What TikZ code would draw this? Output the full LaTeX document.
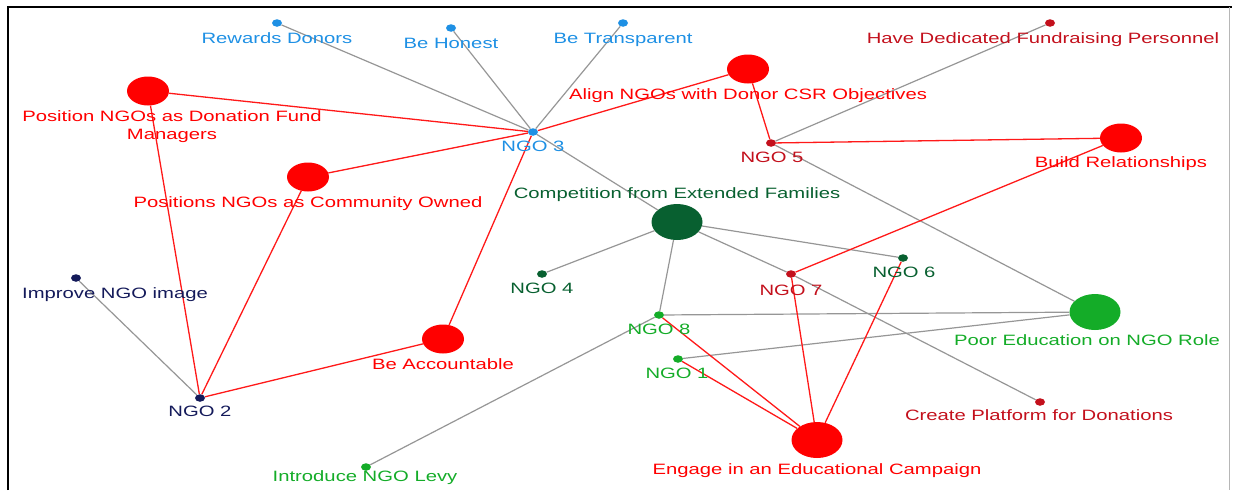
\documentclass[tikz,border=0pt]{standalone}
\usepackage{fontspec}
\setmainfont[FakeStretch=1.35]{Liberation Sans}
\usetikzlibrary{shapes.geometric}
\definecolor{ngoblue}{RGB}{30,144,228}
\definecolor{ngored}{RGB}{255,0,0}
\definecolor{ngodark}{RGB}{195,16,28}
\definecolor{ngopine}{RGB}{8,96,48}
\definecolor{ngogreen}{RGB}{20,172,40}
\definecolor{ngonavy}{RGB}{20,26,90}
\definecolor{tiegray}{RGB}{150,150,150}
\pgfdeclarelayer{bg}
\pgfsetlayers{bg,main}
\tikzset{
  smalldot/.style={ellipse,inner sep=0pt,minimum width=10pt,minimum height=7.5pt,fill=#1},
  blob/.style={ellipse,inner sep=0pt,minimum width=42pt,minimum height=29pt,fill=#1},
  bigblob/.style={ellipse,inner sep=0pt,minimum width=51pt,minimum height=36pt,fill=#1},
  lbl/.style={text=#1,inner sep=0pt,text height=11pt,text depth=0pt,font=\fontsize{15}{18}\selectfont},
  tie/.style={draw=tiegray,line width=1.2pt},
  redtie/.style={draw=ngored!90,line width=1.3pt}
}
\begin{document}
\begin{tikzpicture}[x=1pt,y=-1pt]
\useasboundingbox (0,0) rectangle (1234,490);
\draw[line width=2pt] (8,490)--(8,7)--(1232,7);
\draw[tiegray!70] (1229,7)--(1229,490);
% blue
\node[smalldot=ngoblue] (rew) at (277,23) {};
\node[lbl=ngoblue] (rew-t) at (277,38) {Rewards Donors};
\node[smalldot=ngoblue] (hon) at (451,28) {};
\node[lbl=ngoblue] (hon-t) at (451,43) {Be Honest};
\node[smalldot=ngoblue] (tra) at (623,23) {};
\node[lbl=ngoblue] (tra-t) at (623,38) {Be Transparent};
\node[smalldot=ngoblue] (n3) at (533,132) {};
\node[lbl=ngoblue] (n3-t) at (533,146) {NGO 3};
% red
\node[blob=ngored] (fund) at (148,91) {};
\node[lbl=ngored,align=center,anchor=north] (fund-t) at (172,128.5) {Position NGOs as Donation Fund\\Managers};
\node[blob=ngored] (csr) at (748,69) {};
\node[lbl=ngored] (csr-t) at (748,94) {Align NGOs with Donor CSR Objectives};
\node[blob=ngored] (com) at (308,177) {};
\node[lbl=ngored] (com-t) at (308,202) {Positions NGOs as Community Owned};
\node[blob=ngored] (rel) at (1121,138) {};
\node[lbl=ngored] (rel-t) at (1121,162) {Build Relationships};
\node[blob=ngored] (acc) at (443,339) {};
\node[lbl=ngored] (acc-t) at (443,364) {Be Accountable};
\node[bigblob=ngored] (edu) at (817,440) {};
\node[lbl=ngored] (edu-t) at (817,469) {Engage in an Educational Campaign};
% dark red
\node[smalldot=ngodark] (ded) at (1050,23) {};
\node[lbl=ngodark] (ded-t) at (1043,38) {Have Dedicated Fundraising Personnel};
\node[smalldot=ngodark] (n5) at (771,143) {};
\node[lbl=ngodark] (n5-t) at (772,157) {NGO 5};
\node[smalldot=ngodark] (n7) at (791,274) {};
\node[lbl=ngodark] (n7-t) at (791,290) {NGO 7};
\node[smalldot=ngodark] (pla) at (1040,402) {};
\node[lbl=ngodark] (pla-t) at (1039,415) {Create Platform for Donations};
% greens
\node[bigblob=ngopine] (fam) at (677,222) {};
\node[lbl=ngopine] (fam-t) at (677,193) {Competition from Extended Families};
\node[smalldot=ngopine] (n4) at (542,274) {};
\node[lbl=ngopine] (n4-t) at (542,288) {NGO 4};
\node[smalldot=ngopine] (n6) at (903,258) {};
\node[lbl=ngopine] (n6-t) at (904,272) {NGO 6};
\node[bigblob=ngogreen] (poor) at (1095,312) {};
\node[lbl=ngogreen] (poor-t) at (1087,340) {Poor Education on NGO Role};
\node[smalldot=ngogreen] (n8) at (659,315) {};
\node[lbl=ngogreen] (n8-t) at (659,329) {NGO 8};
\node[smalldot=ngogreen] (n1) at (678,359) {};
\node[lbl=ngogreen] (n1-t) at (677,373) {NGO 1};
\node[smalldot=ngogreen] (levy) at (366,467) {};
\node[lbl=ngogreen] (levy-t) at (365,476) {Introduce NGO Levy};
% navy
\node[smalldot=ngonavy] (img) at (76,278) {};
\node[lbl=ngonavy] (img-t) at (115,293) {Improve NGO image};
\node[smalldot=ngonavy] (n2) at (200,398) {};
\node[lbl=ngonavy] (n2-t) at (200,411) {NGO 2};
\begin{pgfonlayer}{bg}
\foreach \a/\b in {rew/n3,hon/n3,tra/n3,n3/fam,ded/n5,n5/poor,img/n2,fam/n4,fam/n8,fam/n7,fam/n6,n7/pla,n8/poor,n1/poor,n8/levy}
  \draw[tie] (\a)--(\b);
\foreach \a/\b in {fund/n3,fund/n2,com/n3,com/n2,csr/n3,csr/n5,n5/rel,rel/n7,acc/n3,acc/n2,edu/n8,edu/n1,edu/n7,edu/n6}
  \draw[redtie] (\a)--(\b);
\end{pgfonlayer}
\end{tikzpicture}
\end{document}
